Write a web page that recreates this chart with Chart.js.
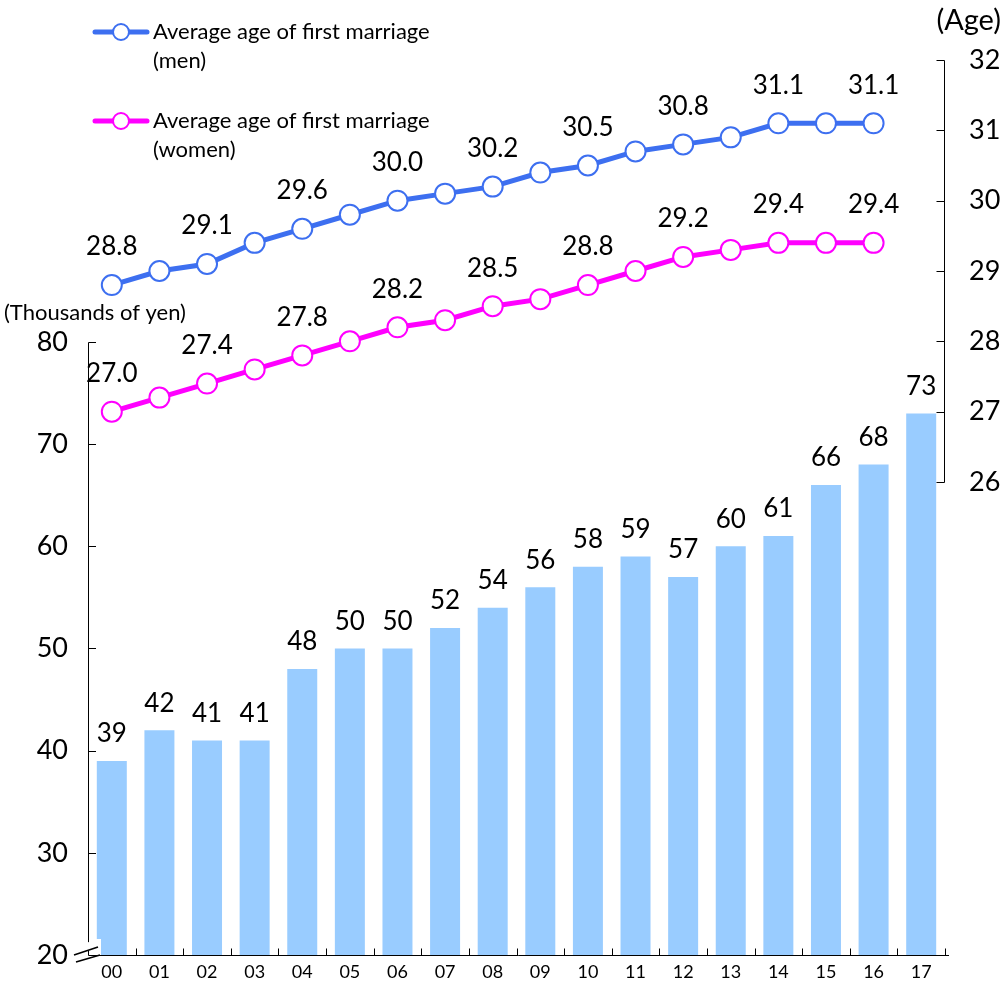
<!DOCTYPE html>
<html>
<head>
<meta charset="utf-8">
<script src="https://cdn.jsdelivr.net/npm/chart.js@4.4.0/dist/chart.umd.min.js"></script>
<style>
html,body{margin:0;padding:0;background:#fff}
#wrap{position:relative;width:1008px;height:989px}
</style>
</head>
<body>
<div id="wrap"><canvas id="c" width="1008" height="989"></canvas></div>
<script>
// datos
const years=['00','01','02','03','04','05','06','07','08','09','10','11','12','13','14','15','16','17'];
const cost=[39,42,41,41,48,50,50,52,54,56,58,59,57,60,61,66,68,73];
const ageMen=[28.8,29.0,29.1,29.4,29.6,29.8,30.0,30.1,30.2,30.4,30.5,30.7,30.8,30.9,31.1,31.1,31.1];
const ageWomen=[27.0,27.2,27.4,27.6,27.8,28.0,28.2,28.3,28.5,28.6,28.8,29.0,29.2,29.3,29.4,29.4,29.4];
const yenTicks=[20,30,40,50,60,70,80];
const ageTicks=[26,27,28,29,30,31,32];

const FONT='Lato, "Noto Sans", sans-serif';
const BLUE='#3d6ff0', PINK='#ff00ff', BAR='#99ccff';
Chart.defaults.font.family=FONT;
Chart.defaults.color='#000';

/* ---------- plugin: ejes, corte, etiquetas, leyenda ---------- */
const extras={
  id:'extras',
  afterDraw(chart){
    const ctx=chart.ctx, a=chart.chartArea;
    const y=chart.scales.y, y2=chart.scales.y2;
    ctx.save();
    // etiquetas de valor
    ctx.fillStyle='#000'; ctx.textAlign='center'; ctx.textBaseline='middle';
    ctx.font='26px '+FONT;
    chart.getDatasetMeta(0).data.forEach((b,i)=>ctx.fillText(cost[i],b.x,b.y-27));
    [[1,ageMen],[2,ageWomen]].forEach(([di,arr])=>{
      chart.getDatasetMeta(di).data.forEach((p,i)=>{
        if(i%2===0) ctx.fillText(arr[i].toFixed(1),p.x,p.y-38);
      });
    });
    // ejes
    ctx.strokeStyle='#000'; ctx.lineWidth=1;
    const top80=Math.round(y.getPixelForValue(80))+0.5;
    const bot=Math.round(a.bottom)+0.5;
    ctx.beginPath();
    ctx.moveTo(88.5,top80); ctx.lineTo(88.5,bot);
    yenTicks.slice(1).forEach(v=>{const py=Math.round(y.getPixelForValue(v))+0.5;ctx.moveTo(88.5,py);ctx.lineTo(96,py);});
    // eje x
    ctx.moveTo(88.5,bot); ctx.lineTo(a.right+4,bot);
    const cw=(a.right-a.left)/years.length;
    for(let i=1;i<=years.length;i++){const px=Math.round(a.left+cw*i)+0.5;ctx.moveTo(px,bot);ctx.lineTo(px,bot-7);}
    // eje derecho
    const rx=Math.round(a.right)-0.5;
    ctx.moveTo(rx,Math.round(y2.getPixelForValue(32))+0.5); ctx.lineTo(rx,Math.round(y2.getPixelForValue(26))+0.5);
    ageTicks.forEach(v=>{const py=Math.round(y2.getPixelForValue(v))+0.5;ctx.moveTo(rx-8,py);ctx.lineTo(rx,py);});
    ctx.stroke();
    // corte del eje en 20
    ctx.fillStyle='#fff';
    ctx.beginPath();
    ctx.moveTo(72,957); ctx.lineTo(101,946); ctx.lineTo(101,939); ctx.lineTo(95,939); ctx.lineTo(72,950); ctx.closePath(); ctx.fill();
    ctx.fillRect(96,939,5,16);
    ctx.strokeStyle='#000'; ctx.lineWidth=1.6;
    ctx.beginPath();
    ctx.moveTo(74,955); ctx.lineTo(98,947);
    ctx.moveTo(76,962); ctx.lineTo(100,955);
    ctx.stroke();
    // títulos de ejes
    ctx.fillStyle='#000'; ctx.textBaseline='middle';
    ctx.textAlign='left'; ctx.font='22px '+FONT; ctx.fillText('(Thousands of yen)',4,313);
    ctx.textAlign='right'; ctx.font='29px '+FONT; ctx.fillText('(Age)',1001,21);
    // leyenda
    const leg=[[BLUE,32,'(men)'],[PINK,121,'(women)']];
    leg.forEach(([col,ly,sub])=>{
      ctx.strokeStyle=col; ctx.lineWidth=5; ctx.lineCap='round';
      ctx.beginPath(); ctx.moveTo(95,ly); ctx.lineTo(147,ly); ctx.stroke();
      ctx.lineWidth=2; ctx.fillStyle='#fff';
      ctx.beginPath(); ctx.arc(121,ly,8,0,Math.PI*2); ctx.fill(); ctx.stroke();
      ctx.fillStyle='#000'; ctx.textAlign='left'; ctx.font='22px '+FONT;
      ctx.fillText('Average age of first marriage',153,ly);
      ctx.fillText(sub,153,ly+29);
    });
    ctx.restore();
  }
};

// quita el relleno vertical que Chart.js agrega por las etiquetas extremas
const noPad=s=>{s.paddingTop=0;s.paddingBottom=0;};

new Chart(document.getElementById('c').getContext('2d'),{
  type:'bar',
  data:{labels:years,datasets:[
    {label:'cost',data:cost,backgroundColor:BAR,yAxisID:'y',order:3,categoryPercentage:1,barPercentage:0.63},
    {type:'line',label:'men',data:ageMen,yAxisID:'y2',order:1,borderColor:BLUE,borderWidth:5,
     pointRadius:10,pointBorderWidth:2,pointBackgroundColor:'#fff',pointBorderColor:BLUE,tension:0},
    {type:'line',label:'women',data:ageWomen,yAxisID:'y2',order:2,borderColor:PINK,borderWidth:5,
     pointRadius:10,pointBorderWidth:2,pointBackgroundColor:'#fff',pointBorderColor:PINK,tension:0}
  ]},
  options:{responsive:false,animation:false,
    layout:{padding:{top:60,left:0,right:0,bottom:0}},
    plugins:{legend:{display:false},tooltip:{enabled:false}},
    scales:{
      x:{grid:{display:false,drawTicks:false},border:{display:false},
         ticks:{color:'#000',font:{size:18},padding:6,maxRotation:0,autoSkip:false},
         afterFit(s){s.height=34;s.paddingLeft=0;s.paddingRight=0;}},
      y:{position:'left',min:20,max:107.6,grid:{display:false,drawTicks:false},border:{display:false},
         afterBuildTicks(s){s.ticks=yenTicks.map(v=>({value:v}));},
         ticks:{color:'#000',font:{size:27},padding:20},
         afterFit(s){s.width=88;noPad(s);}},
      y2:{position:'right',min:19.275,max:32,grid:{display:false,drawTicks:false},border:{display:false},
         afterBuildTicks(s){s.ticks=ageTicks.map(v=>({value:v}));},
         ticks:{color:'#000',font:{size:27},padding:24},
         afterFit(s){s.width=63;noPad(s);}}
    }
  },
  plugins:[extras]
});
</script>
</body>
</html>
